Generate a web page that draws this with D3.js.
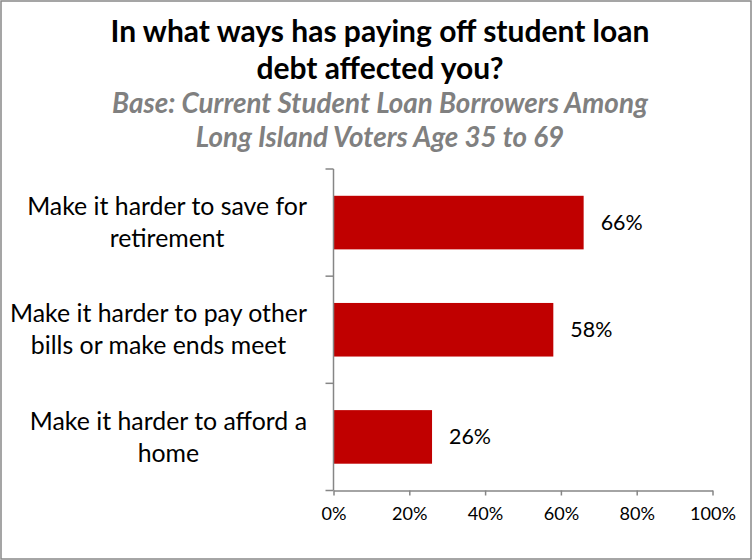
<!DOCTYPE html>
<html>
<head>
<meta charset="utf-8">
<script src="https://cdn.jsdelivr.net/npm/d3@7"></script>
<style>
  html, body { margin: 0; padding: 0; background: #fff; }
  svg { display: block; }
</style>
</head>
<body>
<svg id="chart" width="752" height="560"></svg>
<script>
// Survey results: share of borrowers reporting each effect
const categories = [
  ["Make it harder to save for", "retirement"],
  ["Make it harder to pay other", "bills or make ends meet"],
  ["Make it harder to afford a", "home"]
];
const values = [66, 58, 26];
const tickValues = [0, 20, 40, 60, 80, 100];
const titleLines = ["In what ways has paying off student loan", "debt affected you?"];
const subtitleLines = ["Base: Current Student Loan Borrowers Among", "Long Island Voters Age 35 to 69"];

const FONT = "Lato, 'Open Sans', sans-serif";
const W = 752, H = 560;
const svg = d3.select("#chart");

// Scale a font size so a reference string spans a target width
function fitSize(text, weight, style, target) {
  const t = svg.append("text")
    .attr("font-family", FONT).attr("font-size", 100)
    .attr("font-weight", weight).attr("font-style", style)
    .text(text);
  const w = t.node().getComputedTextLength();
  t.remove();
  return 100 * target / w;
}

// Outer frame
svg.append("rect")
  .attr("x", 1).attr("y", 1).attr("width", W - 2).attr("height", H - 2)
  .attr("fill", "#fff").attr("stroke", "#888").attr("stroke-width", 1.5);

// Title and subtitle
const cx = 380;
const titleSize = fitSize(titleLines[0], "bold", "normal", 539);
svg.append("g").selectAll("text").data(titleLines).join("text")
  .attr("x", cx).attr("y", (d, i) => 42 + i * 37)
  .attr("text-anchor", "middle")
  .attr("font-family", FONT).attr("font-weight", "bold")
  .attr("font-size", titleSize).attr("fill", "#000")
  .text(d => d);

const subSize = fitSize(subtitleLines[0], "bold", "italic", 536);
svg.append("g").selectAll("text").data(subtitleLines).join("text")
  .attr("x", cx).attr("y", (d, i) => 113 + i * 34)
  .attr("text-anchor", "middle")
  .attr("font-family", FONT).attr("font-weight", "bold").attr("font-style", "italic")
  .attr("font-size", subSize).attr("fill", "#808080")
  .text(d => d);

// Plot area
const x0 = 333.5, x1 = 712.5, y0 = 169, y1 = 490.5;
const x = d3.scaleLinear().domain([0, 100]).range([x0, x1]);
const y = d3.scaleBand().domain(d3.range(categories.length)).range([y0, y1])
  .paddingInner(0.5).paddingOuter(0.25);
const yOuter = d3.scaleBand().domain(d3.range(categories.length)).range([y0, y1]);

const AXIS = "#868686";

// Bars
svg.append("g").selectAll("rect").data(values).join("rect")
  .attr("x", x(0)).attr("y", (d, i) => y(i))
  .attr("width", d => x(d) - x(0)).attr("height", y.bandwidth())
  .attr("fill", "#C00000");

// Value labels
const valSize = fitSize("66%", "normal", "normal", 42);
svg.append("g").selectAll("text").data(values).join("text")
  .attr("x", d => x(d) + 17)
  .attr("y", (d, i) => y(i) + y.bandwidth() / 2)
  .attr("dy", "0.35em")
  .attr("font-family", FONT).attr("font-size", valSize).attr("fill", "#000")
  .text(d => d + "%");

// Category axis: vertical line with ticks on band boundaries
const gy = svg.append("g");
gy.append("line").attr("x1", x0).attr("x2", x0).attr("y1", y0).attr("y2", y1)
  .attr("stroke", AXIS).attr("stroke-width", 1.5);
const bounds = d3.range(categories.length + 1).map(i => i < categories.length ? yOuter(i) : y1);
gy.selectAll("line.tick").data(bounds).join("line").attr("class", "tick")
  .attr("x1", x0 - 8).attr("x2", x0).attr("y1", d => d).attr("y2", d => d)
  .attr("stroke", AXIS).attr("stroke-width", 1.5);

// Category labels, two centred lines each
const catSize = fitSize(categories[0][0], "normal", "normal", 280);
categories.forEach((lines, i) => {
  const g = svg.append("g");
  const cyMid = yOuter(i) + yOuter.bandwidth() / 2;
  const texts = g.selectAll("text").data(lines).join("text")
    .attr("font-family", FONT).attr("font-size", catSize).attr("fill", "#000")
    .attr("text-anchor", "middle")
    .attr("y", (d, j) => cyMid + (j - 0.5) * 32)
    .attr("dy", "0.35em")
    .text(d => d);
  const widest = d3.max(texts.nodes(), n => n.getComputedTextLength());
  texts.attr("x", 307 - widest / 2);
});

// Value axis
const xAxis = d3.axisBottom(x).tickValues(tickValues).tickSize(5).tickSizeOuter(0)
  .tickFormat(d => d + "%");
const gx = svg.append("g").attr("transform", `translate(0,${y1})`).call(xAxis);
gx.select(".domain").attr("stroke", AXIS).attr("stroke-width", 1.5);
gx.selectAll(".tick line").attr("stroke", AXIS).attr("stroke-width", 1.5);
const tickSize = fitSize("100%", "normal", "normal", 46);
gx.selectAll(".tick text")
  .attr("font-family", FONT).attr("font-size", tickSize).attr("fill", "#000")
  .attr("y", 0).attr("dy", "1.65em");
</script>
</body>
</html>
